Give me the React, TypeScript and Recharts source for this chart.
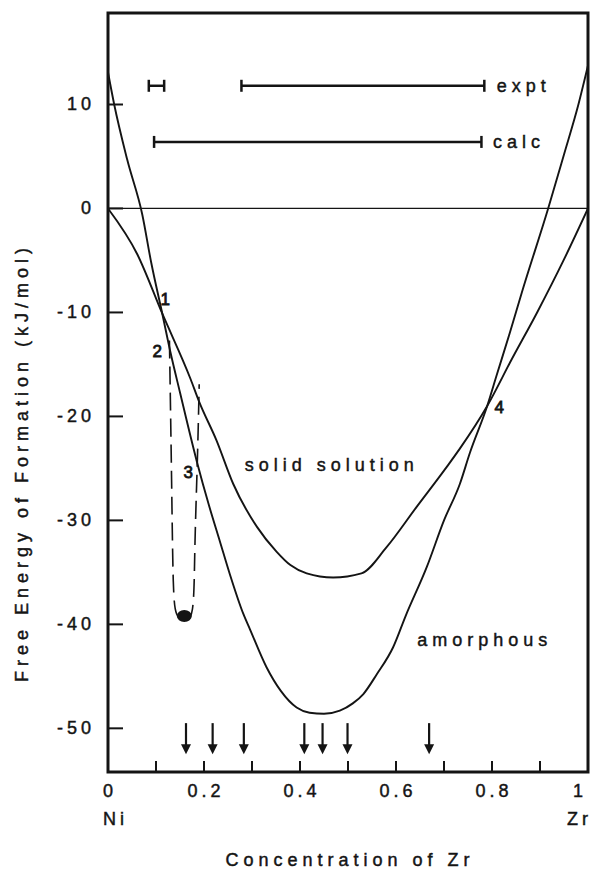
import React from "react";
import {
  ComposedChart,
  Line,
  XAxis,
  YAxis,
  ReferenceLine,
  ReferenceArea,
  Scatter,
  Label,
} from "recharts";

const FONT = '"Liberation Sans", Arial, Helvetica, sans-serif';
const INK = "#141414";

// ---- axes ----
const X_DOMAIN = [0, 1];
const Y_DOMAIN = [-54.2, 18.8];
const X_TICKS = [0, 0.1, 0.2, 0.3, 0.4, 0.5, 0.6, 0.7, 0.8, 0.9, 1];
const X_TICK_LABELS = ["0", "", "0.2", "", "0.4", "", "0.6", "", "0.8", "", "1"];
const Y_TICKS = [-50, -40, -30, -20, -10, 0, 10];
const Y_TICK_LABELS = ["-50", "-40", "-30", "-20", "-10", "0", "10"];
const X_END_LABELS = ["Ni", "Zr"];
const X_TITLE = "Concentration of Zr";
const Y_TITLE = "Free Energy of Formation (kJ/mol)";

// ---- curves ----
const AMORPHOUS_X = [0, 0.0125, 0.04, 0.0715, 0.09, 0.113, 0.13, 0.15, 0.186, 0.21, 0.233, 0.254, 0.282, 0.296, 0.33, 0.36, 0.393, 0.42, 0.45, 0.483, 0.51, 0.532, 0.56, 0.594, 0.62, 0.664, 0.7, 0.733, 0.754, 0.79, 0.81, 0.8375, 0.862, 0.917, 0.95, 0.98, 1.0];
const AMORPHOUS_Y = [13.1, 10.1, 4.7, -0.6, -5.2, -10.1, -13.8, -17.7, -24.5, -28.5, -32, -35.2, -39, -40.5, -44.1, -46.4, -48, -48.5, -48.6, -48.3, -47.6, -46.7, -44.8, -42.2, -39.2, -34.5, -30, -26.5, -23.5, -19, -16, -11.9, -8.1, 0, 5.2, 10, 13.75];

const SOLID_X = [0, 0.061, 0.113, 0.172, 0.19, 0.226, 0.261, 0.31, 0.351, 0.38, 0.414, 0.469, 0.528, 0.58, 0.643, 0.705, 0.733, 0.79, 0.84, 0.894, 0.95, 1.0];
const SOLID_Y = [0, -4.4, -10.1, -16.4, -18.6, -22.3, -26.5, -30.6, -33, -34.3, -35.1, -35.5, -35.1, -32.6, -28.7, -24.9, -23.1, -19, -14.6, -10, -4.9, 0];

const DASHED_X = [0.128, 0.1325, 0.136, 0.143, 0.159, 0.176, 0.181, 0.186, 0.19];
const DASHED_Y = [-12.7, -26.2, -35.8, -39, -39.6, -38.5, -32.6, -24.5, -16.9];

const MIN_POINT_X = [0.159];
const MIN_POINT_Y = [-39.2];

// ---- compound arrows ----
const ARROW_X = [0.1625, 0.218, 0.283, 0.409, 0.447, 0.499, 0.669];
const ARROW_TOP = -49.5;

// ---- glass-forming ranges ----
const EXPT_SMALL_X = [0.085, 0.117];
const EXPT_LARGE_X = [0.278, 0.784];
const EXPT_Y = 11.8;
const CALC_X = [0.096, 0.778];
const CALC_Y = 6.4;

// ---- annotations ----
const NOTE_TEXT = ["1", "2", "3", "4", "solid solution", "amorphous", "expt", "calc"];
const NOTE_X = [0.119, 0.1025, 0.167, 0.815, 0.466, 0.785, 0.81, 0.802];
const NOTE_Y = [-8.8, -13.8, -25.4, -19.1, -24.7, -41.5, 11.8, 6.4];
const NOTE_ANCHOR = ["middle", "middle", "middle", "middle", "middle", "middle", "start", "start"];
const NOTE_SIZE = [17, 17, 17, 17, 18, 18, 18, 18];

const toPts = (xs: number[], ys: number[]) => xs.map((x, i) => ({ x, y: ys[i] }));
const amorphousData = toPts(AMORPHOUS_X, AMORPHOUS_Y);
const solidData = toPts(SOLID_X, SOLID_Y);
const dashedData = toPts(DASHED_X, DASHED_Y);
const minData = toPts(MIN_POINT_X, MIN_POINT_Y);
const arrowData = ARROW_X.map((x) => ({ x, y: ARROW_TOP }));
const exptSmall = EXPT_SMALL_X.map((x) => ({ x, y: EXPT_Y }));
const exptLarge = EXPT_LARGE_X.map((x) => ({ x, y: EXPT_Y }));
const calcData = CALC_X.map((x) => ({ x, y: CALC_Y }));
const noteData = NOTE_TEXT.map((t, i) => ({
  x: NOTE_X[i],
  y: NOTE_Y[i],
  text: t,
  anchor: NOTE_ANCHOR[i],
  size: NOTE_SIZE[i],
}));

const TXT = {
  fontFamily: FONT,
  fill: INK,
  stroke: INK,
  strokeWidth: 0.45,
};

const LeftTick = (props: any) => {
  const { x, y, index } = props;
  return (
    <g>
      <line x1={x} x2={x + 15} y1={y} y2={y} stroke={INK} strokeWidth={2} />
      <text
        x={x - 13}
        y={y}
        textAnchor="end"
        dominantBaseline="central"
        fontSize={18}
        letterSpacing={4}
        {...TXT}
      >
        {Y_TICK_LABELS[index]}
      </text>
    </g>
  );
};

const RightTick = (props: any) => {
  const { x, y } = props;
  return <line x1={x - 15} x2={x} y1={y} y2={y} stroke={INK} strokeWidth={2} />;
};

const BottomTick = (props: any) => {
  const { x, y, index } = props;
  const last = index === X_TICKS.length - 1;
  const first = index === 0;
  return (
    <g>
      {!first && !last && (
        <line x1={x} x2={x} y1={y - 11} y2={y} stroke={INK} strokeWidth={2} />
      )}
      {X_TICK_LABELS[index] !== "" && (
        <text
          x={last ? x - 8 : x + 2}
          y={y + 25}
          textAnchor="middle"
          fontSize={18}
          letterSpacing={4}
          {...TXT}
        >
          {X_TICK_LABELS[index]}
        </text>
      )}
      {first && (
        <text x={x - 5} y={y + 53} textAnchor="start" fontSize={18} letterSpacing={4} {...TXT}>
          {X_END_LABELS[0]}
        </text>
      )}
      {last && (
        <text x={x + 4} y={y + 53} textAnchor="end" fontSize={18} letterSpacing={4} {...TXT}>
          {X_END_LABELS[1]}
        </text>
      )}
    </g>
  );
};

const capDot = (p: any) => (
  <line
    key={`cap-${p.index}`}
    x1={p.cx}
    x2={p.cx}
    y1={p.cy - 6}
    y2={p.cy + 6}
    stroke={INK}
    strokeWidth={2.5}
  />
);

const ArrowShape = (p: any) => {
  const { cx, cy } = p;
  return (
    <g>
      <line x1={cx} x2={cx} y1={cy} y2={cy + 24} stroke={INK} strokeWidth={2.2} />
      <path d={`M${cx - 5},${cy + 21} L${cx + 5},${cy + 21} L${cx},${cy + 31} Z`} fill={INK} />
    </g>
  );
};

const DotShape = (p: any) => <ellipse cx={p.cx} cy={p.cy} rx={7.5} ry={6} fill={INK} />;

const NoteShape = (p: any) => {
  const d = p.payload;
  const num = d.text.length === 1;
  return (
    <text
      x={p.cx}
      y={p.cy}
      textAnchor={d.anchor}
      dominantBaseline="central"
      fontSize={d.size}
      letterSpacing={num ? 0 : 5}
      {...TXT}
      strokeWidth={num ? 0.8 : 0.45}
    >
      {d.text}
    </text>
  );
};

const YTitle = (props: any) => {
  const vb = props.viewBox;
  const cx = vb.x + 22;
  const cy = vb.y + vb.height / 2 + 70;
  return (
    <text
      x={cx}
      y={cy}
      transform={`rotate(-90 ${cx} ${cy})`}
      textAnchor="middle"
      dominantBaseline="central"
      fontSize={18}
      letterSpacing={5}
      {...TXT}
    >
      {Y_TITLE}
    </text>
  );
};

const XTitle = (props: any) => {
  const vb = props.viewBox;
  return (
    <text
      x={vb.x + vb.width / 2 + 2}
      y={vb.y + vb.height - 10}
      textAnchor="middle"
      fontSize={18}
      letterSpacing={5}
      {...TXT}
    >
      {X_TITLE}
    </text>
  );
};

export default function App() {
  return (
    <div style={{ position: "absolute", left: 0, top: 0, width: 592, height: 876, background: "#fff" }}>
      <ComposedChart width={592} height={876} margin={{ top: 13, right: 4, bottom: 0, left: 0 }}>
        <XAxis
          dataKey="x"
          type="number"
          domain={X_DOMAIN}
          ticks={X_TICKS}
          interval={0}
          allowDataOverflow
          height={104}
          axisLine={false}
          tickLine={false}
          tickSize={0}
          tickMargin={0}
          tick={<BottomTick />}
        >
          <Label content={<XTitle />} />
        </XAxis>
        <YAxis
          dataKey="y"
          type="number"
          domain={Y_DOMAIN}
          ticks={Y_TICKS}
          interval={0}
          allowDataOverflow
          width={108}
          axisLine={false}
          tickLine={false}
          tickSize={0}
          tickMargin={0}
          tick={<LeftTick />}
        >
          <Label content={<YTitle />} />
        </YAxis>
        <YAxis
          yAxisId="right"
          orientation="right"
          dataKey="y"
          type="number"
          domain={Y_DOMAIN}
          ticks={Y_TICKS}
          interval={0}
          allowDataOverflow
          width={0}
          axisLine={false}
          tickLine={false}
          tickSize={0}
          tickMargin={0}
          tick={<RightTick />}
        />
        <ReferenceArea
          x1={X_DOMAIN[0]}
          x2={X_DOMAIN[1]}
          y1={Y_DOMAIN[0]}
          y2={Y_DOMAIN[1]}
          fill="none"
          stroke={INK}
          strokeWidth={3}
          ifOverflow="visible"
        />
        <ReferenceLine y={0} stroke={INK} strokeWidth={1.3} />
        <Line data={solidData} dataKey="y" type="monotone" stroke={INK} strokeWidth={1.9} dot={false} isAnimationActive={false} />
        <Line data={amorphousData} dataKey="y" type="monotone" stroke={INK} strokeWidth={1.9} dot={false} isAnimationActive={false} />
        <Line data={dashedData} dataKey="y" type="natural" stroke={INK} strokeWidth={1.6} strokeDasharray="18 8" dot={false} isAnimationActive={false} />
        <Line data={exptSmall} dataKey="y" type="linear" stroke={INK} strokeWidth={2.5} dot={capDot} isAnimationActive={false} />
        <Line data={exptLarge} dataKey="y" type="linear" stroke={INK} strokeWidth={2.5} dot={capDot} isAnimationActive={false} />
        <Line data={calcData} dataKey="y" type="linear" stroke={INK} strokeWidth={2.5} dot={capDot} isAnimationActive={false} />
        <Scatter data={minData} dataKey="y" shape={DotShape} isAnimationActive={false} />
        <Scatter data={arrowData} dataKey="y" shape={ArrowShape} isAnimationActive={false} />
        <Scatter data={noteData} dataKey="y" shape={NoteShape} isAnimationActive={false} />
      </ComposedChart>
    </div>
  );
}
